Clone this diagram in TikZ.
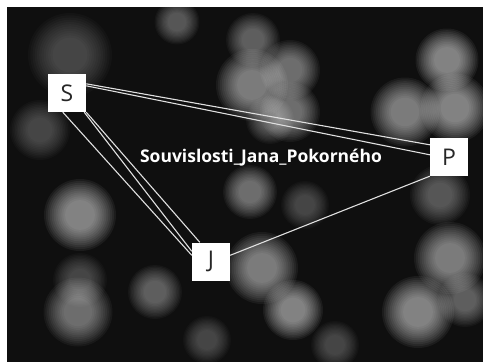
\documentclass[tikz,border=0pt]{standalone}
\usepackage{fontspec}
\setmainfont{Open Sans}
\newfontfamily\titlefont{Open Sans}[BoldFont={* Bold}]
\newcommand\bokeh[4]{%
  \foreach \k in {0,...,11}{%
    \fill[white, opacity=#4] (#1,#2) circle ({#3*(1.5-0.08*\k)});
  }%
}
\tikzset{
  letterbox/.style={draw=none, fill=white, minimum size=38pt, inner sep=0pt,
    text=black!85, font=\fontsize{23}{23}\selectfont},
  link/.style={draw=white!88!black, line width=1.1pt},
}
\begin{document}
\begin{tikzpicture}[x=1pt,y=-1pt]
\useasboundingbox (0,0) rectangle (483,362);
\fill[white] (0,0) rectangle (483,362);
\begin{scope}
\clip (7,7) rectangle (483,362);
\fill[black!94] (7,7) rectangle (483,362);
\bokeh{177}{22}{15}{0.03}
\bokeh{253}{40}{18}{0.035}
\bokeh{252}{85}{24}{0.05}
\bokeh{290}{70}{20}{0.045}
\bokeh{290}{112}{20}{0.045}
\bokeh{270}{120}{16}{0.03}
\bokeh{447}{60}{21}{0.055}
\bokeh{405}{112}{23}{0.05}
\bokeh{455}{108}{23}{0.055}
\bokeh{440}{195}{20}{0.03}
\bokeh{80}{215}{24}{0.055}
\bokeh{250}{192}{18}{0.045}
\bokeh{305}{205}{16}{0.025}
\bokeh{262}{268}{24}{0.05}
\bokeh{293}{310}{20}{0.055}
\bokeh{78}{312}{23}{0.045}
\bokeh{155}{292}{18}{0.035}
\bokeh{80}{280}{18}{0.025}
\bokeh{207}{340}{16}{0.025}
\bokeh{450}{258}{24}{0.05}
\bokeh{418}{312}{24}{0.055}
\bokeh{465}{300}{18}{0.035}
\bokeh{335}{345}{16}{0.025}
\bokeh{70}{55}{28}{0.025}
\bokeh{40}{130}{20}{0.025}
\end{scope}

\node[letterbox] (S) at (67,93) {S};
\node[letterbox] (P) at (449,157) {P};
\node[letterbox] (J) at (211,261.5) {J};

\node[text=white, font=\titlefont\bfseries\fontsize{17.5}{19}\selectfont] (T) at (261,158) {Souvislosti\_Jana\_Pokorného};

\draw[link] ([yshift=-10pt]S.north east) -- ([yshift=-7pt]P.north west);
\draw[link] ([yshift=-12pt]S.north east) -- ([yshift=-17pt]P.north west);
\draw[link] ([xshift=15pt]S.south west) -- ([yshift=-13pt]J.north west);
\draw[link] ([xshift=-2pt]S.south east) -- ([yshift=-9pt]J.north west);
\draw[link] (S.south east) -- ([xshift=8pt]J.north west);
\draw[link] ([yshift=-13pt]J.north east) -- (P.south west);
\end{tikzpicture}
\end{document}
